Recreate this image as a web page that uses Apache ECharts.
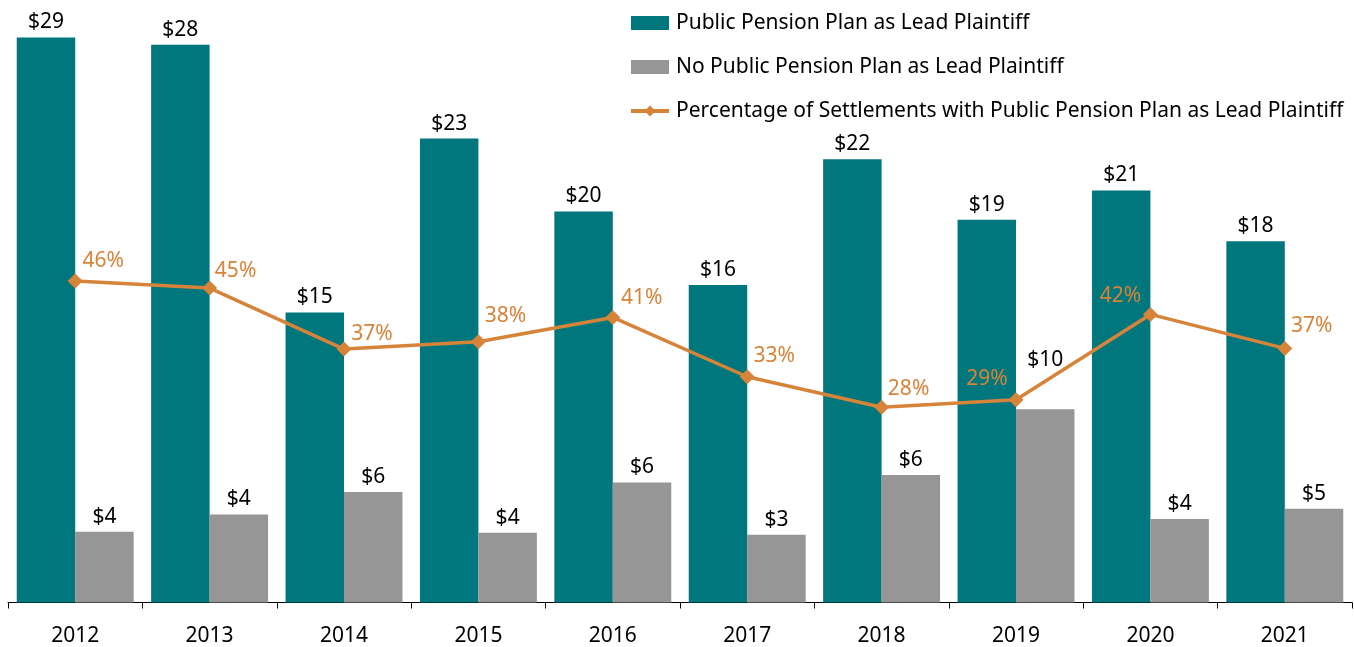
<!DOCTYPE html>
<html>
<head>
<meta charset="utf-8" />
<title>Settlements and Public Pension Plans</title>
<script src="https://cdn.jsdelivr.net/npm/echarts@6/dist/echarts.min.js"></script>
<style>
  html, body { margin: 0; padding: 0; background: #fff; }
  #chart { width: 1354px; height: 647px; }
</style>
</head>
<body>
<div id="chart"></div>
<script>
// data
var years = ['2012', '2013', '2014', '2015', '2016', '2017', '2018', '2019', '2020', '2021'];
var publicPension = [28.56, 28.19, 14.66, 23.45, 19.77, 16.05, 22.41, 19.35, 20.83, 18.26];
var noPublicPension = [3.57, 4.45, 5.58, 3.53, 6.07, 3.43, 6.45, 9.77, 4.22, 4.74];
var pctPublic = [46.43, 45.4, 36.59, 37.64, 41.16, 32.6, 28.19, 29.29, 41.6, 36.69];

// label placement (pixels, relative to the point)
var pctLabelOffset = [[28, -20], [26, -17], [28, -15], [27, -26], [29, -19],
                      [27, -21], [27, -18], [-29, -21], [-30, -18], [27, -22]];

var FONT = '"Noto Sans", sans-serif';
var FS = 21;
var TEAL = '#00767D';
var GRAY = '#969696';
var ORANGE = '#D6843A';

var chart = echarts.init(document.getElementById('chart'));

var grayData = noPublicPension.map(function (v, i) {
  // the 2019 label sits higher, clear of the line
  if (i === 7) return { value: v, label: { offset: [0, -34] } };
  return v;
});

var pctData = pctPublic.map(function (v, i) {
  return { value: v, label: { offset: pctLabelOffset[i] } };
});

var barLabel = {
  show: true,
  position: 'top',
  distance: 5,
  color: '#000',
  fontFamily: FONT,
  fontSize: FS,
  lineHeight: 20,
  formatter: function (p) { return '$' + Math.round(p.value); }
};

var option = {
  animation: false,
  textStyle: { fontFamily: FONT },
  grid: { left: 8, right: 2, top: 9, bottom: 43 },
  legend: {
    orient: 'vertical',
    left: 629,
    top: 12,
    padding: 0,
    itemWidth: 38,
    itemHeight: 14,
    itemGap: 22,
    textStyle: { color: '#000', fontFamily: FONT, fontSize: FS, lineHeight: 22, padding: [0, 0, 0, 2] },
    data: [
      { name: 'Public Pension Plan as Lead Plaintiff', icon: 'rect' },
      { name: 'No Public Pension Plan as Lead Plaintiff', icon: 'rect' },
      { name: 'Percentage of Settlements with Public Pension Plan as Lead Plaintiff', lineStyle: { width: 4 } }
    ]
  },
  xAxis: {
    type: 'category',
    data: years,
    axisLine: { lineStyle: { color: '#000', width: 1 } },
    axisTick: { show: true, length: 6, lineStyle: { color: '#000' } },
    axisLabel: { color: '#000', fontFamily: FONT, fontSize: FS, lineHeight: 20, margin: 24 }
  },
  yAxis: [
    { type: 'value', min: 0, max: 30, show: false, splitLine: { show: false } },
    { type: 'value', min: 0, max: 85.7, show: false, splitLine: { show: false } }
  ],
  series: [
    {
      name: 'Public Pension Plan as Lead Plaintiff',
      type: 'bar',
      data: publicPension,
      itemStyle: { color: TEAL },
      barGap: '0%',
      barCategoryGap: '13%',
      label: barLabel
    },
    {
      name: 'No Public Pension Plan as Lead Plaintiff',
      type: 'bar',
      data: grayData,
      itemStyle: { color: GRAY },
      label: barLabel
    },
    {
      name: 'Percentage of Settlements with Public Pension Plan as Lead Plaintiff',
      type: 'line',
      yAxisIndex: 1,
      data: pctData,
      symbol: 'diamond',
      symbolSize: 15,
      lineStyle: { color: ORANGE, width: 3.5 },
      itemStyle: { color: ORANGE },
      label: {
        show: true,
        position: 'inside',
        color: ORANGE,
        fontFamily: FONT,
        fontSize: FS,
        formatter: function (p) { return Math.round(p.value) + '%'; }
      },
      z: 5
    }
  ]
};

chart.setOption(option);
</script>
</body>
</html>
